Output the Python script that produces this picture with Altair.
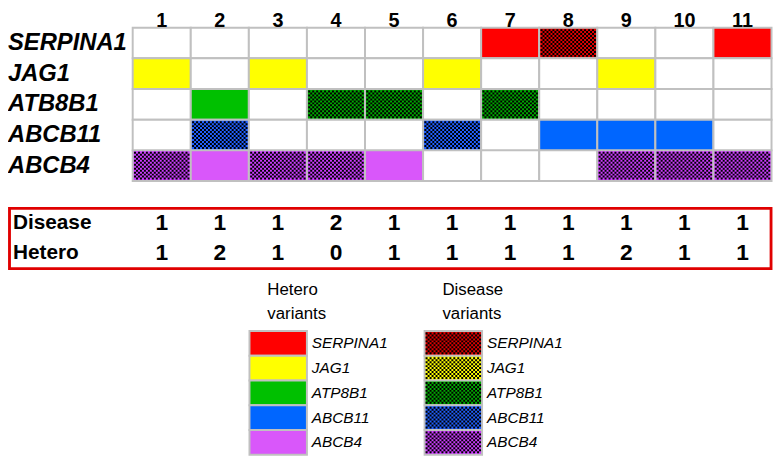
import altair as alt
import pandas as pd

# ---------------- data ----------------
cols = list(range(1, 12))
genes = ["SERPINA1", "JAG1", "ATB8B1", "ABCB11", "ABCB4"]
hetero_cells = {"SERPINA1": [7, 11], "JAG1": [1, 3, 6, 9], "ATB8B1": [2],
                "ABCB11": [8, 9, 10], "ABCB4": [2, 5]}
disease_cells = {"SERPINA1": [8], "JAG1": [], "ATB8B1": [4, 5, 7],
                 "ABCB11": [2, 6], "ABCB4": [1, 3, 4, 9, 10, 11]}
disease_counts = [1, 1, 1, 2, 1, 1, 1, 1, 1, 1, 1]
hetero_counts = [1, 2, 1, 0, 1, 1, 1, 1, 2, 1, 1]
legend_genes = ["SERPINA1", "JAG1", "ATP8B1", "ABCB11", "ABCB4"]
legend_groups = ["Hetero", "Disease"]
legend_titles = ["Hetero\nvariants", "Disease\nvariants"]

hetero_colors = ["#ff0000", "#ffff00", "#00c000", "#0066ff", "#d957fa"]
disease_colors = ["#e00000", "#ffff00", "#00a800", "#2060ff", "#cc3cff"]

# ---------------- tables ----------------
grid_rows = []
for gi, g in enumerate(genes):
    for c in cols:
        if c in hetero_cells[g]:
            st = "H"
        elif c in disease_cells[g]:
            st = "D"
        else:
            st = "N"
        grid_rows.append({"gene": g, "col": c, "status": st,
                          "key": "N" if st == "N" else f"{gi}{st}"})
grid_df = pd.DataFrame(grid_rows)
dis_df = grid_df[grid_df.status == "D"]

table_df = pd.DataFrame(
    [{"col": c, "row": "Disease", "v": v} for c, v in zip(cols, disease_counts)]
    + [{"col": c, "row": "Hetero", "v": v} for c, v in zip(cols, hetero_counts)])
rowlab_df = pd.DataFrame({"row": ["Disease", "Hetero"]})

leg_rows = []
for grp, st in zip(legend_groups, ["H", "D"]):
    for gi, g in enumerate(legend_genes):
        leg_rows.append({"grp": grp, "gene": g, "key": f"{gi}{st}", "status": st})
leg_df = pd.DataFrame(leg_rows)
leg_title_df = pd.DataFrame({"grp": legend_groups, "title": legend_titles})
col_df = pd.DataFrame({"col": cols})
gene_df = pd.DataFrame({"gene": genes})

keys = ["N"] + [f"{i}H" for i in range(5)] + [f"{i}D" for i in range(5)]
key_colors = ["#ffffff"] + hetero_colors + disease_colors
color_scale = alt.Scale(domain=keys, range=key_colors)

# ---------------- scales ----------------
def xcol():
    return alt.X("col:O", axis=None,
                 scale=alt.Scale(type="band", domain=cols, range=[126, 771.5],
                                 paddingInner=0, paddingOuter=0))

def ygene():
    return alt.Y("gene:N", axis=None,
                 scale=alt.Scale(type="band", domain=genes, range=[17.5, 172.5],
                                 paddingInner=0, paddingOuter=0))

def yrow():
    return alt.Y("row:N", axis=None,
                 scale=alt.Scale(type="band", domain=["Disease", "Hetero"],
                                 range=[200, 261], paddingInner=0, paddingOuter=0))

def xleg():
    return alt.X("grp:N", axis=None,
                 scale=alt.Scale(type="band", domain=legend_groups, range=[244, 479],
                                 paddingInner=0.672, paddingOuter=0))

def yleg():
    return alt.Y("gene:N", axis=None,
                 scale=alt.Scale(type="band", domain=legend_genes, range=[324, 449],
                                 paddingInner=0, paddingOuter=0))


def checker_path(w, h, s):
    nx, ny = int(w // s), int(h // s)
    x0, y0 = -nx * s / 2, -ny * s / 2
    parts = []
    for j in range(ny):
        for i in range(nx):
            if (i + j) % 2 == 0:
                parts.append(f"M{x0 + i * s:g},{y0 + j * s:g}h{s:g}v{s:g}h{-s:g}z")
    return "".join(parts)

grid_checker = checker_path(56, 28, 2)
leg_checker = checker_path(56, 22, 2)

FONT = "Liberation Sans"

# ---------------- layers ----------------
grid = alt.Chart(grid_df).mark_rect(stroke="#c0c0c0", strokeWidth=2).encode(
    x=xcol(), y=ygene(),
    color=alt.Color("key:N", scale=color_scale, legend=None))

grid_chk = alt.Chart(dis_df).mark_point(
    shape=grid_checker, size=4, filled=True, fill="black", strokeWidth=0, opacity=1
).encode(x=xcol(), y=ygene())

col_labels = alt.Chart(col_df).mark_text(
    font=FONT, fontSize=20, fontWeight="bold", baseline="middle", color="black"
).encode(x=xcol(), y=alt.value(10.5), text="col:O")

gene_labels = alt.Chart(gene_df).mark_text(
    font=FONT, fontSize=24, fontWeight="bold", fontStyle="italic",
    align="left", baseline="middle", color="black"
).encode(x=alt.value(0), y=ygene(), text="gene:N")

box = alt.Chart(rowlab_df).mark_rect(
    filled=False, stroke="#e00000", strokeWidth=2.5
).encode(x=alt.value(1.5), x2=alt.value(771), y=alt.value(200), y2=alt.value(261))

table_text = alt.Chart(table_df).mark_text(
    font=FONT, fontSize=23, fontWeight="bold", baseline="middle", color="black"
).encode(x=xcol(), y=yrow(), text="v:Q")

row_labels = alt.Chart(rowlab_df).mark_text(
    font=FONT, fontSize=21, fontWeight="bold", align="left", baseline="middle",
    color="black"
).encode(x=alt.value(5), y=yrow(), text="row:N")

leg_rect = alt.Chart(leg_df).mark_rect(stroke="#c0c0c0", strokeWidth=2).encode(
    x=xleg(), y=yleg(),
    color=alt.Color("key:N", scale=color_scale, legend=None))

leg_chk = alt.Chart(leg_df[leg_df.status == "D"]).mark_point(
    shape=leg_checker, size=4, filled=True, fill="black", strokeWidth=0, opacity=1
).encode(x=xleg(), y=yleg())

leg_labels = alt.Chart(leg_df).mark_text(
    font=FONT, fontSize=15.5, fontStyle="italic", align="left", baseline="middle",
    dx=34, color="black"
).encode(x=xleg(), y=yleg(), text="gene:N")

leg_titles = alt.Chart(leg_title_df).mark_text(
    font=FONT, fontSize=17, align="left", baseline="alphabetic", dx=-11,
    lineBreak="\n", lineHeight=24, color="black"
).encode(x=xleg(), y=alt.value(288), text="title:N")

chart = alt.layer(
    grid, grid_chk, col_labels, gene_labels, box, table_text, row_labels,
    leg_rect, leg_chk, leg_labels, leg_titles
).resolve_scale(
    x="independent", y="independent", color="independent"
).properties(
    width=774, height=453, padding=0,
    autosize=alt.AutoSizeParams(type="none"),
    background="white"
).configure_view(stroke=None)

chart.save("out.html", embed_options={"renderer": "svg", "actions": False})
